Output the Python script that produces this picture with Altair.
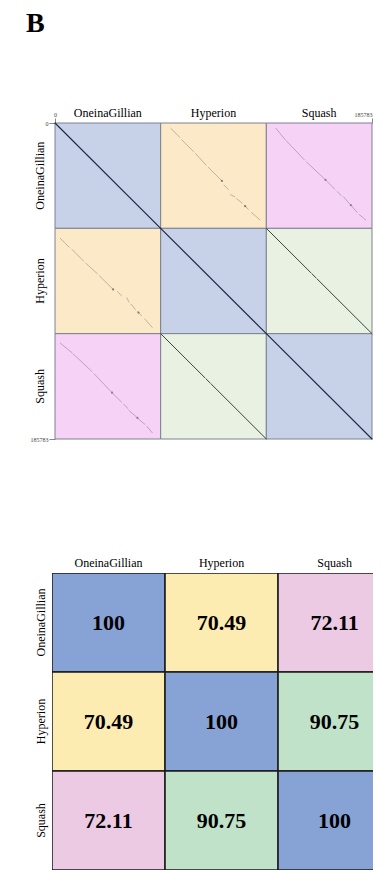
import altair as alt
import pandas as pd

# ---------------- data ----------------
genomes = ["OneinaGillian", "Hyperion", "Squash"]
genome_length = 185783
axis_tick_values = [0, 3]

identity = [
    [100, 70.49, 72.11],
    [70.49, 100, 90.75],
    [72.11, 90.75, 100],
]

pair_kind = [
    ["self", "og_hyp", "og_sq"],
    ["og_hyp", "self", "hyp_sq"],
    ["og_sq", "hyp_sq", "self"],
]

dot_colors = {"self": "#c7d1e7", "og_hyp": "#fbe9c8", "og_sq": "#f6d2f6", "hyp_sq": "#e9f1e3"}
heat_colors = {"self": "#87a2d4", "og_hyp": "#fdecb2", "og_sq": "#edcae3", "hyp_sq": "#c0e2c9"}

# match segments (fraction along column genome, fraction along row genome)
self_x0, self_y0, self_x1, self_y1 = [0.0], [0.0], [1.0], [1.0]

hs_x0 = [0.00, 0.43, 0.48]
hs_y0 = [0.00, 0.43, 0.48]
hs_x1 = [0.42, 0.47, 1.00]
hs_y1 = [0.42, 0.47, 1.00]

ogh_x0 = [0.095, 0.20, 0.33, 0.45, 0.60, 0.66, 0.72, 0.79, 0.86]
ogh_y0 = [0.050, 0.16, 0.29, 0.42, 0.59, 0.68, 0.72, 0.78, 0.85]
ogh_x1 = [0.18, 0.31, 0.43, 0.58, 0.64, 0.70, 0.77, 0.83, 0.94]
ogh_y1 = [0.135, 0.27, 0.40, 0.55, 0.63, 0.70, 0.76, 0.82, 0.92]

ogs_x0 = [0.09, 0.19, 0.38, 0.57, 0.67, 0.73, 0.81, 0.88]
ogs_y0 = [0.05, 0.17, 0.37, 0.55, 0.65, 0.70, 0.79, 0.87]
ogs_x1 = [0.18, 0.36, 0.55, 0.65, 0.71, 0.79, 0.86, 0.94]
ogs_y1 = [0.16, 0.35, 0.53, 0.63, 0.69, 0.77, 0.85, 0.92]

ogh_blob_x, ogh_blob_y = [0.58, 0.80], [0.55, 0.79]
ogs_blob_x, ogs_blob_y = [0.56, 0.80], [0.54, 0.78]

line_color = {"self": "#1f2a48", "hyp_sq": "#3a443c", "og_hyp": "#a39c88", "og_sq": "#a08ea0"}
line_width = {"self": 1.2, "hyp_sq": 1.0, "og_hyp": 0.7, "og_sq": 0.7}

SERIF = "Liberation Serif"

# ---------------- tables ----------------
cells = []
for r in range(3):
    for c in range(3):
        k = pair_kind[r][c]
        cells.append({
            "row": r, "col": c, "x0": c, "x1": c + 1, "y0": r, "y1": r + 1,
            "xm": c + 0.5, "ym": r + 0.5,
            "dot_color": dot_colors[k], "heat_color": heat_colors[k],
            "label": f"{identity[r][c]:g}",
        })
cells = pd.DataFrame(cells)

segs = []
blobs = []
for r in range(3):
    for c in range(3):
        k = pair_kind[r][c]
        if k == "self":
            sx0, sy0, sx1, sy1 = self_x0, self_y0, self_x1, self_y1
            bx, by = [], []
        elif k == "hyp_sq":
            sx0, sy0, sx1, sy1 = hs_x0, hs_y0, hs_x1, hs_y1
            bx, by = [], []
        elif k == "og_hyp":
            sx0, sy0, sx1, sy1 = ogh_x0, ogh_y0, ogh_x1, ogh_y1
            bx, by = ogh_blob_x, ogh_blob_y
        else:
            sx0, sy0, sx1, sy1 = ogs_x0, ogs_y0, ogs_x1, ogs_y1
            bx, by = ogs_blob_x, ogs_blob_y
        if r > c:  # transpose for the lower triangle
            sx0, sy0, sx1, sy1 = sy0, sx0, sy1, sx1
            bx, by = by, bx
        for a, b, e, f in zip(sx0, sy0, sx1, sy1):
            segs.append({"x": c + a, "y": r + b, "x2": c + e, "y2": r + f,
                         "color": line_color[k], "w": line_width[k]})
        for a, b in zip(bx, by):
            blobs.append({"x": c + a, "y": r + b, "color": "#6f6a60"})
segs = pd.DataFrame(segs)
blobs = pd.DataFrame(blobs)

titles = pd.DataFrame({"name": genomes, "pos": [i + 0.5 for i in range(3)]})

# ---------------- top: dot plots ----------------
W_TOP, H_TOP = 320, 316
xs = alt.Scale(domain=[-0.0284, 3], nice=False, zero=False)
ys = alt.Scale(domain=[0, 3], reverse=True, nice=False, zero=False)

tick_expr = f"datum.value == 0 ? '0' : '{genome_length}'"
top_axis = alt.Axis(orient="top", values=axis_tick_values, labelExpr=tick_expr, title=None,
                    grid=False, domain=False, tickSize=5, tickColor="#666", tickWidth=0.8,
                    labelFontSize=6, labelFont=SERIF, labelColor="#444", labelFlush=True,
                    labelPadding=1)
left_axis = alt.Axis(orient="left", values=axis_tick_values, labelExpr=tick_expr, title=None,
                     grid=False, domain=False, tickSize=6, tickColor="#666", tickWidth=0.8,
                     labelFontSize=6, labelFont=SERIF, labelColor="#444", labelFlush=False,
                     labelPadding=1, offset=-3)

bg = alt.Chart(cells).mark_rect(stroke="#7d8290", strokeWidth=1).encode(
    x=alt.X("x0:Q", scale=xs, axis=top_axis),
    x2="x1:Q",
    y=alt.Y("y0:Q", scale=ys, axis=left_axis),
    y2="y1:Q",
    fill=alt.Fill("dot_color:N", scale=None),
)

lines = alt.Chart(segs).mark_rule(strokeCap="round").encode(
    x=alt.X("x:Q", scale=xs), x2="x2:Q",
    y=alt.Y("y:Q", scale=ys), y2="y2:Q",
    color=alt.Color("color:N", scale=None),
    strokeWidth=alt.StrokeWidth("w:Q", scale=None),
)

blob_layer = alt.Chart(blobs).mark_circle(size=5, opacity=0.8).encode(
    x=alt.X("x:Q", scale=xs), y=alt.Y("y:Q", scale=ys),
    color=alt.Color("color:N", scale=None),
)

col_titles_top = alt.Chart(titles).mark_text(font=SERIF, fontSize=12, baseline="middle").encode(
    x=alt.X("pos:Q", scale=xs), y=alt.value(-10), text="name:N")
row_titles_top = alt.Chart(titles).mark_text(font=SERIF, fontSize=12, angle=270, baseline="middle").encode(
    y=alt.Y("pos:Q", scale=ys), x=alt.value(-12), text="name:N")

top = alt.layer(bg, lines, blob_layer, col_titles_top, row_titles_top).properties(
    width=W_TOP, height=H_TOP)

# ---------------- bottom: identity heatmap (right column runs off the page) ----------------
W_BOT, H_BOT = 321, 297
hx = alt.Scale(domain=[0, 2.84], nice=False, zero=False)
hy = alt.Scale(domain=[0, 3], reverse=True, nice=False, zero=False)

heat = alt.Chart(cells).mark_rect(stroke="#1a1a1a", strokeWidth=1.5, clip=True).encode(
    x=alt.X("x0:Q", scale=hx, axis=None), x2="x1:Q",
    y=alt.Y("y0:Q", scale=hy, axis=None), y2="y1:Q",
    fill=alt.Fill("heat_color:N", scale=None),
)
heat_text = alt.Chart(cells).mark_text(font=SERIF, fontSize=22, fontWeight="bold", color="black").encode(
    x=alt.X("xm:Q", scale=hx), y=alt.Y("ym:Q", scale=hy), text="label:N")
col_titles_bot = alt.Chart(titles).mark_text(font=SERIF, fontSize=12, baseline="middle").encode(
    x=alt.X("pos:Q", scale=hx), y=alt.value(-10), text="name:N")
row_titles_bot = alt.Chart(titles).mark_text(font=SERIF, fontSize=12, angle=270, baseline="middle").encode(
    y=alt.Y("pos:Q", scale=hy), x=alt.value(-11), text="name:N")

bottom = alt.layer(heat, heat_text, col_titles_bot, row_titles_bot).properties(
    width=W_BOT, height=H_BOT)

chart = alt.vconcat(top, bottom, spacing=115).properties(
    title=alt.TitleParams("B", anchor="start", font=SERIF, fontSize=28, fontWeight="bold",
                          color="black", offset=69, dx=-4),
    padding={"left": 18, "top": 2, "right": 0, "bottom": 0},
).configure_view(strokeWidth=0)

chart.save("out.html", embed_options={"renderer": "svg", "actions": False})
